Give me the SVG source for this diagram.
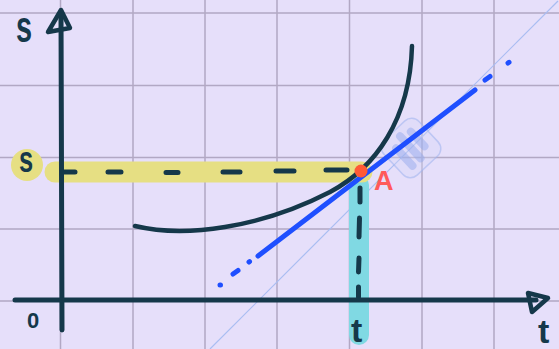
<svg xmlns="http://www.w3.org/2000/svg" width="559" height="349" viewBox="0 0 559 349">
<style>
.grid{stroke:#3c2a4a;stroke-opacity:0.3;stroke-width:1.5;fill:none}
.ink{stroke:#15384a;fill:none;stroke-linecap:round;stroke-linejoin:round}
.lbl{font-family:"Liberation Sans",Arial,sans-serif;font-weight:bold;fill:#15384a}
.blue{stroke:#1f4fff;stroke-width:5;stroke-linecap:round;fill:none}
</style>
<rect width="559" height="349" fill="#e6dffa"/>
<g id="grid" class="grid">
<path d="M60.5,0V349M133,0V349M205,0V349M277,0V349M349.5,0V349M422,0V349M494,0V349M0,13H559M0,85.5H559M0,157.5H559M0,229H559M0,301H559"/>
</g>
<line id="diagonal" x1="210" y1="349" x2="558" y2="1" stroke="#a9bdf2" stroke-width="1.2"/>
<g id="highlights">
<line x1="359" y1="185" x2="359" y2="335" stroke="#80d9e3" stroke-width="20" stroke-linecap="round"/>
<line x1="55" y1="172" x2="362" y2="172" stroke="#e6df83" stroke-width="21" stroke-linecap="round"/>
<circle cx="27" cy="165" r="16" fill="#e6df83"/>
</g>
<g id="cursor-icon" transform="translate(411,148) rotate(-43)">
<rect x="-24" y="-24" width="48" height="48" rx="10" fill="#d3d8f7" fill-opacity="0.35" stroke="#9fb2ee" stroke-opacity="0.55" stroke-width="1.5"/>
<path d="M-11,-10V14M0,-16V14M11,-12V8" stroke="#8ea5ea" stroke-opacity="0.45" stroke-width="8" stroke-linecap="round"/>
</g>
<g id="guides" class="ink" stroke-width="5">
<path d="M63,172H75M108,172H121M166,172.5H178M223,172H240M276,171H294M326,170H347"/>
<path d="M360,188L360,202M359.5,218L359,237M359,258L358.5,272M358.5,287L358.5,297"/>
</g>
<g id="axes" class="ink" stroke-width="5">
<path d="M61,14L62,330"/>
<path d="M61,10L48,32L70,28Z" stroke-width="4.5"/>
<path d="M15,300H536"/>
<path d="M548,298L528,293L532,312Z" stroke-width="4.5"/>
</g>
<path id="curve" class="ink" stroke-width="4.5" d="M135,226C185,238 260,228 330,192C375,168 410,120 412,46"/>
<g id="tangent">
<line class="blue" x1="258" y1="256" x2="475" y2="90"/>
<path class="blue" d="M220,285L220.5,285M233,274L238,270.5M249,262L249.5,261.6M485,80L490,76.5M508,63L509,62.3"/>
</g>
<g id="point-A">
<circle cx="361" cy="171" r="6.5" fill="#ff5a36"/>
<text x="374" y="190" font-family="'Liberation Sans',Arial,sans-serif" font-weight="bold" font-size="27" fill="#ff5a5a">A</text>
</g>
<g id="labels">
<text class="lbl" x="0" y="0" font-size="34" transform="translate(16,42) scale(0.85,1.3)">s</text>
<text class="lbl" x="0" y="0" font-size="30" transform="translate(19,172) scale(0.85,1.25)">s</text>
<text class="lbl" x="27" y="328" font-size="22">0</text>
<text class="lbl" x="351" y="342" font-size="34">t</text>
<text class="lbl" x="538" y="343" font-size="34">t</text>
</g>
</svg>
